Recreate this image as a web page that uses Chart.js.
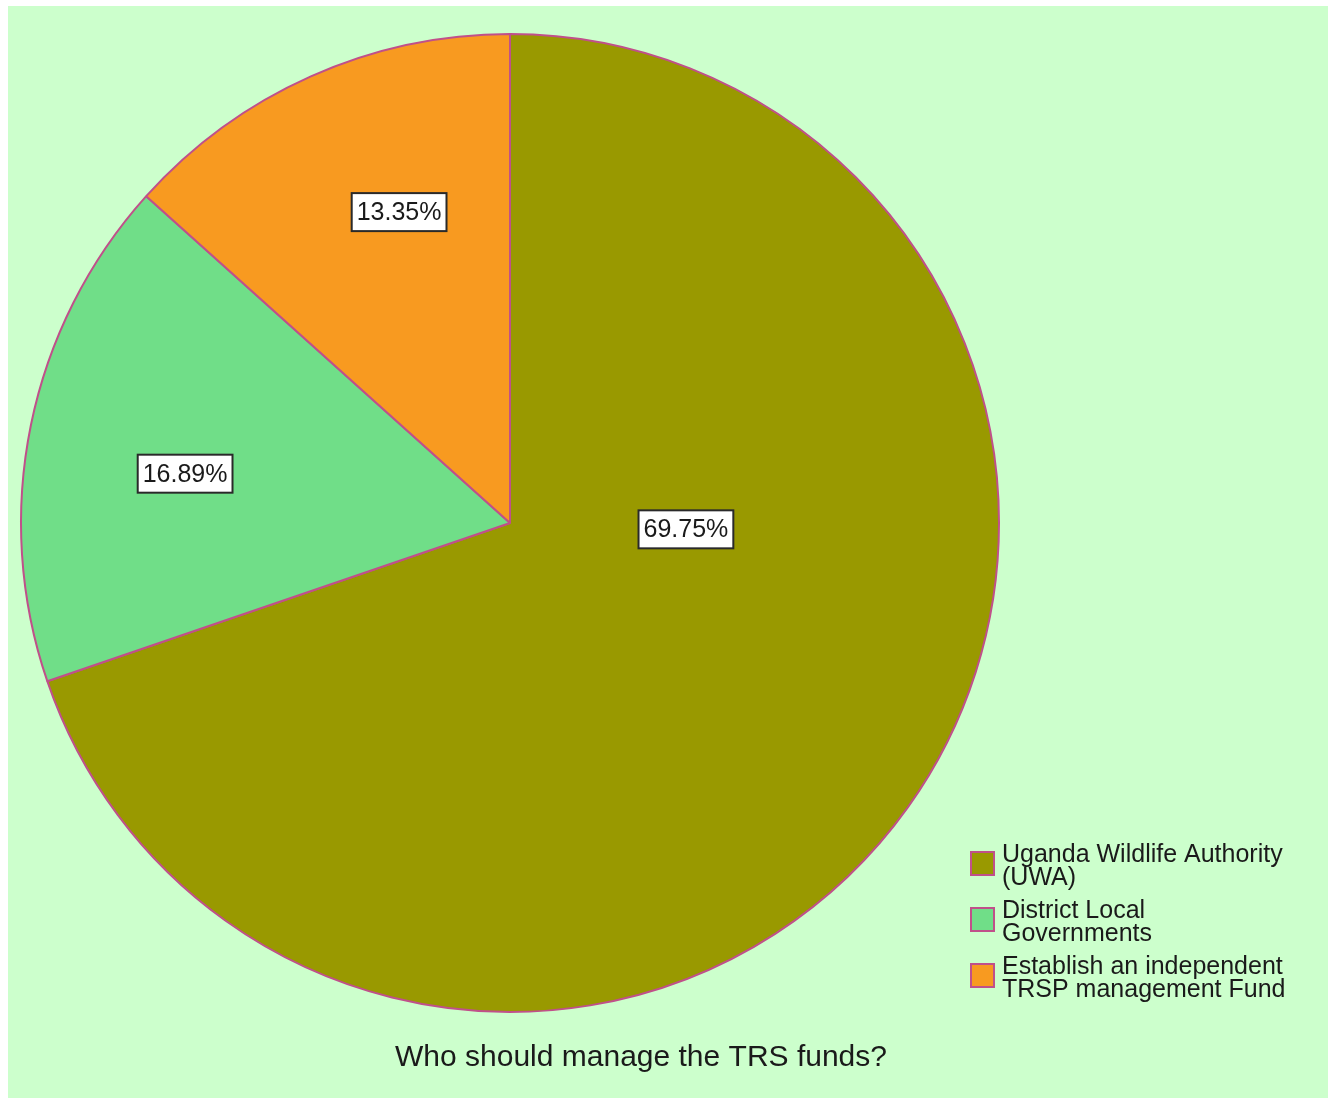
<!DOCTYPE html>
<html>
<head>
<meta charset="utf-8">
<script src="https://cdn.jsdelivr.net/npm/chart.js@4/dist/chart.umd.min.js"></script>
<style>
  html, body { margin: 0; padding: 0; background: #ffffff; }
  #wrap { position: relative; width: 1328px; height: 1098px; }
</style>
</head>
<body>
<div id="wrap"><canvas id="c" width="1328" height="1098"></canvas></div>
<script>
// Survey answers: who should manage the TRS funds (percent of respondents)
const categories = [
  ['Uganda Wildlife Authority', '(UWA)'],
  ['District Local', 'Governments'],
  ['Establish an independent', 'TRSP management Fund']
];
const shares = [69.75, 16.89, 13.35];
const sliceColors = ['#999900', '#70DE88', '#F89A20'];
const chartTitle = 'Who should manage the TRS funds?';

const EDGE = '#C0508A';
const FONT = '"Liberation Sans", Arial, sans-serif';

// Panel background: white margin with a pale green plot panel
const panelBackground = {
  id: 'panelBackground',
  beforeDraw(chart) {
    const ctx = chart.ctx;
    ctx.save();
    ctx.fillStyle = '#ffffff';
    ctx.fillRect(0, 0, chart.width, chart.height);
    ctx.fillStyle = '#CCFFCC';
    ctx.fillRect(8, 6, chart.width - 8, chart.height - 6);
    ctx.restore();
  }
};

// Boxed percentage labels placed inside each slice
const sliceLabels = {
  id: 'sliceLabels',
  afterDatasetsDraw(chart, args, opts) {
    const ctx = chart.ctx;
    const meta = chart.getDatasetMeta(0);
    const values = chart.data.datasets[0].data;
    ctx.save();
    ctx.font = opts.font;
    ctx.textAlign = 'center';
    ctx.textBaseline = 'middle';
    meta.data.forEach((arc, i) => {
      const p = arc.getProps(['x', 'y', 'startAngle', 'endAngle', 'outerRadius'], true);
      const a = (p.startAngle + p.endAngle) / 2 + opts.turn[i] * Math.PI / 180;
      const r = p.outerRadius * opts.radius[i];
      const cx = p.x + Math.cos(a) * r;
      const cy = p.y + Math.sin(a) * r;
      const text = values[i].toFixed(2) + '%';
      const w = ctx.measureText(text).width + 10;
      const h = 38;
      ctx.fillStyle = '#ffffff';
      ctx.fillRect(cx - w / 2, cy - h / 2, w, h);
      ctx.strokeStyle = '#2a2a2a';
      ctx.lineWidth = 2;
      ctx.strokeRect(cx - w / 2, cy - h / 2, w, h);
      ctx.fillStyle = '#1a1a1a';
      ctx.fillText(text, cx, cy + 1);
    });
    ctx.restore();
  }
};

// Legend at the lower right and the caption under the pie
const sideLegend = {
  id: 'sideLegend',
  afterDraw(chart, args, opts) {
    const ctx = chart.ctx;
    const ds = chart.data.datasets[0];
    ctx.save();
    ctx.font = opts.font;
    ctx.textAlign = 'left';
    ctx.textBaseline = 'middle';
    chart.data.labels.forEach((lines, i) => {
      const y0 = opts.top + i * opts.step;
      ctx.fillStyle = ds.backgroundColor[i];
      ctx.fillRect(opts.x, y0 - 3, opts.box, opts.box);
      ctx.strokeStyle = EDGE;
      ctx.lineWidth = 2;
      ctx.strokeRect(opts.x, y0 - 3, opts.box, opts.box);
      ctx.fillStyle = '#1a1a1a';
      lines.forEach((ln, k) => ctx.fillText(ln, opts.textX, y0 + k * opts.lineHeight));
    });
    ctx.font = opts.titleFont;
    ctx.textAlign = 'center';
    ctx.textBaseline = 'alphabetic';
    ctx.fillText(opts.title, opts.titleX, opts.titleY);
    ctx.restore();
  }
};

new Chart(document.getElementById('c'), {
  type: 'pie',
  data: {
    labels: categories,
    datasets: [{
      data: shares,
      backgroundColor: sliceColors,
      borderColor: EDGE,
      borderWidth: 2,
      hoverOffset: 0,
      offset: 0
    }]
  },
  options: {
    responsive: false,
    devicePixelRatio: 1,
    animation: false,
    layout: { padding: { left: 20, top: 33, right: 328, bottom: 85 } },
    plugins: {
      legend: { display: false },
      title: { display: false },
      tooltip: { enabled: false },
      sliceLabels: {
        font: '25px ' + FONT,
        radius: [0.36, 0.672, 0.675],
        turn: [-33.5, -2.9, 4.4]
      },
      sideLegend: {
        font: '25px ' + FONT,
        titleFont: '30px ' + FONT,
        x: 971, box: 23, top: 855, step: 56, lineHeight: 23, textX: 1002,
        title: chartTitle, titleX: 641, titleY: 1066
      }
    }
  },
  plugins: [panelBackground, sliceLabels, sideLegend]
});
</script>
</body>
</html>
